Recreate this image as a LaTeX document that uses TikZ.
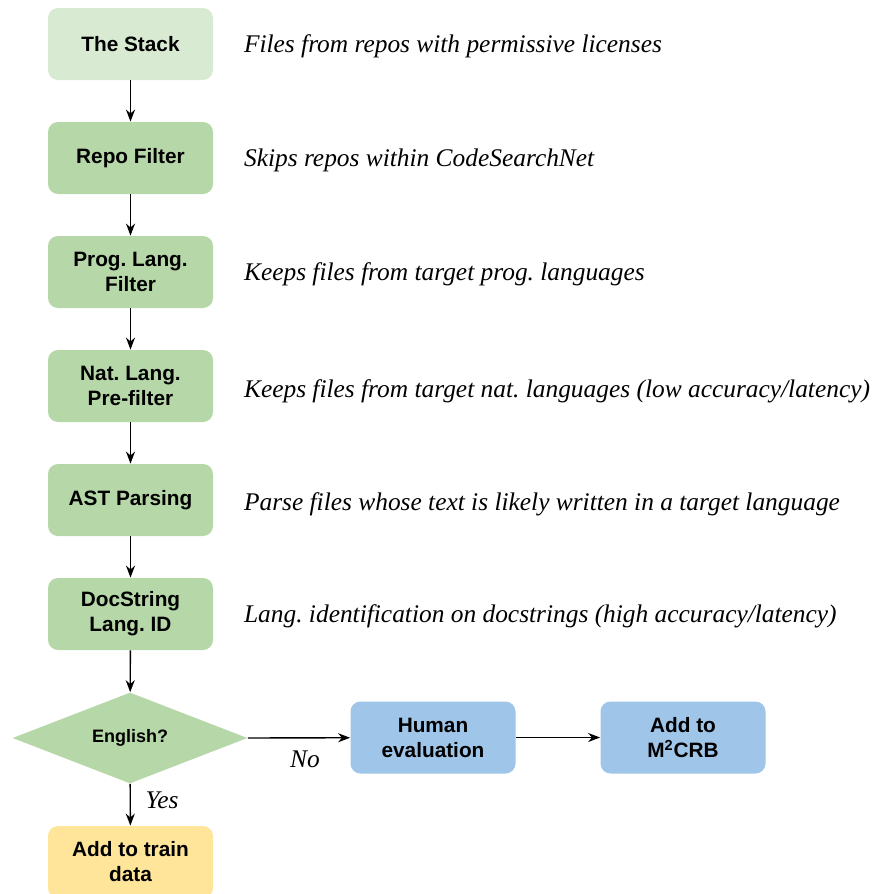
\documentclass[tikz,border=0pt]{standalone}
\usepackage{fontspec}
\setmainfont{Liberation Serif}
\setsansfont{Liberation Sans}
\usetikzlibrary{shapes.geometric,arrows.meta}
\frenchspacing

\definecolor{stackgreen}{HTML}{D9EAD3}
\definecolor{filtergreen}{HTML}{B6D7A8}
\definecolor{evalblue}{HTML}{9FC5E8}
\definecolor{trainyellow}{HTML}{FFE599}

\tikzset{
    stepbox/.style={rectangle, rounded corners=5pt, fill=#1, minimum width=82.5pt,
        minimum height=36pt, align=center, inner sep=2pt,
        font=\sffamily\bfseries\fontsize{10.4}{12.5}\selectfont},
    stepbox/.default=filtergreen,
    desc/.style={anchor=west, font=\itshape\fontsize{12.7}{14}\selectfont},
    flow/.style={-{Stealth[length=6pt,width=4.5pt]}, line width=0.7pt},
}

\begin{document}
\begin{tikzpicture}[x=0.5pt,y=-0.5pt]
\useasboundingbox (0,0) rectangle (873,894);
% pipeline
\node[stepbox=stackgreen] (stack) at (130.5,44) {The Stack};
\node[stepbox] (repo) at (130.5,158) {Repo Filter};
\node[stepbox] (proglang) at (130.5,272) {Prog. Lang.\\Filter};
\node[stepbox] (natlang) at (130.5,386) {Nat. Lang.\\Pre-filter};
\node[stepbox] (ast) at (130.5,500) {AST Parsing};
\node[stepbox] (docstring) at (130.5,614) {DocString\\Lang. ID};
\node[diamond, fill=filtergreen, aspect=2.6, inner sep=0pt, minimum width=117.5pt,
    minimum height=45.5pt, font=\sffamily\bfseries\fontsize{9}{11}\selectfont]
    (english) at (130,738) {English?};
\node[stepbox=trainyellow] (train) at (130.5,862) {Add to train\\data};
\node[stepbox=evalblue] (human) at (433,737.5) {Human\\evaluation};
\node[stepbox=evalblue] (mcrb) at (683,737.5) {Add to\\M\textsuperscript{2}CRB};

% descriptions
\node[desc] (dstack) at (237,46) {Files from repos with permissive licenses};
\node[desc] (drepo) at (237,160) {Skips repos within CodeSearchNet};
\node[desc] (dproglang) at (237,274) {Keeps files from target prog. languages};
\node[desc] (dnatlang) at (237,391) {Keeps files from target nat. languages (low accuracy/latency)};
\node[desc] (dast) at (237,504) {Parse files whose text is likely written in a target language};
\node[desc] (ddocstring) at (237,616) {Lang. identification on docstrings (high accuracy/latency)};

\foreach \a/\b in {stack/repo, repo/proglang, proglang/natlang, natlang/ast, ast/docstring, docstring/english}{
    \draw[flow] (\a) -- (\b);
}
\draw[flow] (english) -- node[right, xshift=4pt, yshift=2pt, font=\itshape\fontsize{12.7}{14}\selectfont] (yes) {Yes} (train);
\draw[flow] (english.east) -- node[below, xshift=3pt, yshift=-3pt, font=\itshape\fontsize{12.7}{14}\selectfont] (no) {No} (human);
\draw[flow] (human) -- (mcrb);
\end{tikzpicture}
\end{document}
